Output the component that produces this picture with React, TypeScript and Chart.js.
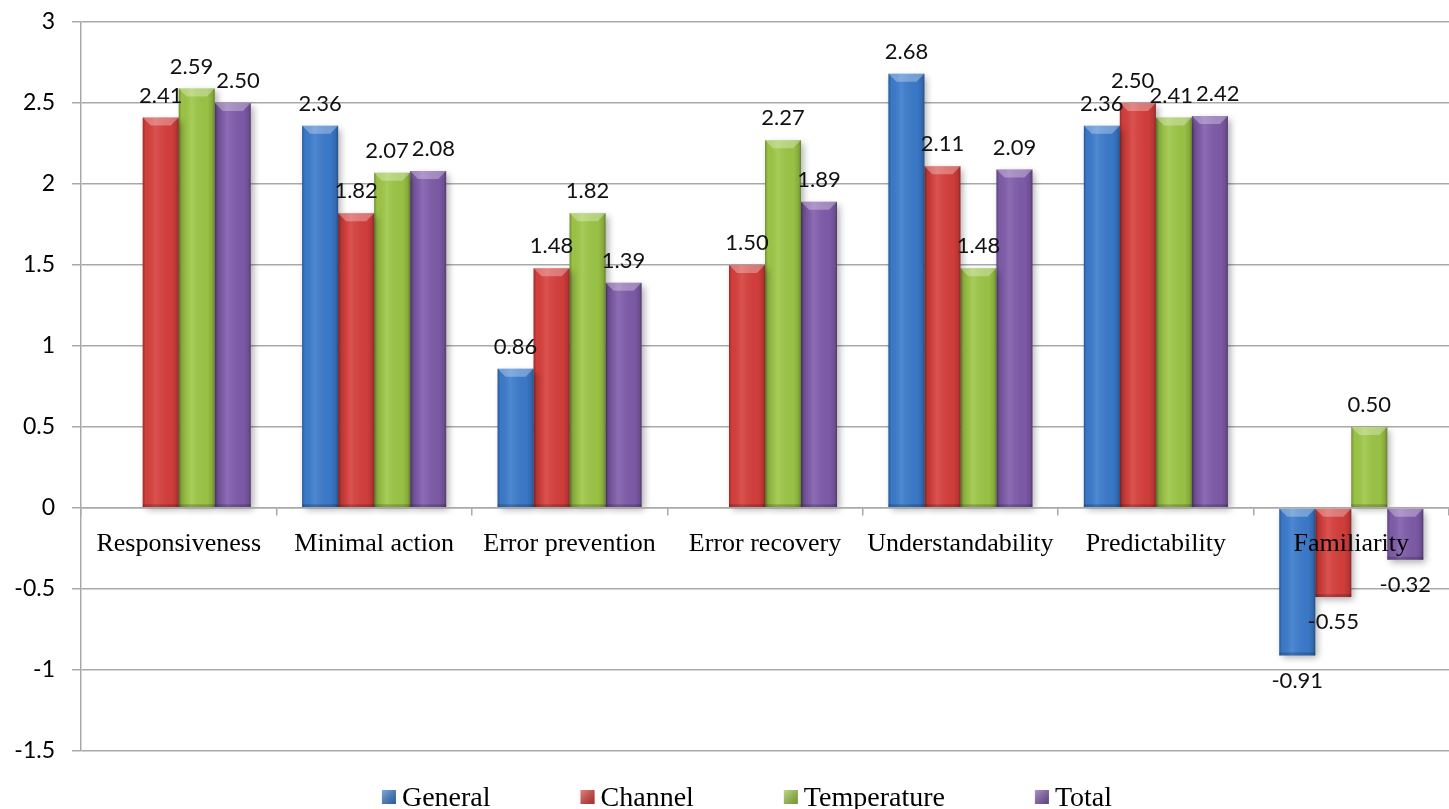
import React, { useEffect, useRef } from "react";
import { Chart, registerables } from "chart.js";

Chart.register(...registerables);

// Usability criteria scored per configuration
const categories = [
  "Responsiveness",
  "Minimal action",
  "Error prevention",
  "Error recovery",
  "Understandability",
  "Predictability",
  "Familiarity",
];

const generalScores = [null, 2.36, 0.86, null, 2.68, 2.36, -0.91];
const channelScores = [2.41, 1.82, 1.48, 1.5, 2.11, 2.5, -0.55];
const temperatureScores = [2.59, 2.07, 1.82, 2.27, 1.48, 2.41, 0.5];
const totalScores = [2.5, 2.08, 1.39, 1.89, 2.09, 2.42, -0.32];

const seriesNames = ["General", "Channel", "Temperature", "Total"];
const seriesColors = ["#3b7bcc", "#d63f3c", "#9dc646", "#7f5caa"];

const yTicks = [3, 2.5, 2, 1.5, 1, 0.5, 0, -0.5, -1, -1.5];

const GRID = "#a9a9a9";
const SERIF = '"Liberation Serif", "Times New Roman", serif';
const SANS = 'Lato, "Open Sans", sans-serif';

// Soft drop shadow under the bars, bevelled shading on top of them,
// then the value labels.
const barStylePlugin = {
  id: "barStyle",
  beforeDatasetsDraw(chart: any) {
    const ctx = chart.ctx;
    ctx.save();
    ctx.shadowColor = "rgba(0,0,0,0.32)";
    ctx.shadowBlur = 7;
    ctx.shadowOffsetX = 3;
    ctx.shadowOffsetY = 3;
  },
  afterDatasetsDraw(chart: any) {
    const ctx = chart.ctx;
    ctx.restore();

    ctx.save();
    chart.data.datasets.forEach((ds: any, i: number) => {
      const meta = chart.getDatasetMeta(i);
      meta.data.forEach((bar: any, j: number) => {
        if (ds.data[j] == null) return;
        const { x, y, base, width } = bar.getProps(["x", "y", "base", "width"], true);
        const left = x - width / 2;
        const right = x + width / 2;
        const top = Math.min(y, base);
        const bottom = Math.max(y, base);
        const h = bottom - top;

        // cylinder-like horizontal shading
        const g = ctx.createLinearGradient(left, 0, right, 0);
        g.addColorStop(0, "rgba(0,0,0,0.28)");
        g.addColorStop(0.08, "rgba(0,0,0,0.02)");
        g.addColorStop(0.35, "rgba(255,255,255,0.10)");
        g.addColorStop(0.8, "rgba(0,0,0,0.03)");
        g.addColorStop(0.93, "rgba(0,0,0,0.14)");
        g.addColorStop(1, "rgba(0,0,0,0.35)");
        ctx.fillStyle = g;
        ctx.fillRect(left, top, width, h);

        // bevel at the upper edge
        const b = Math.min(8, h / 2);
        ctx.beginPath();
        ctx.moveTo(left, top);
        ctx.lineTo(right, top);
        ctx.lineTo(right - b, top + b);
        ctx.lineTo(left + b, top + b);
        ctx.closePath();
        ctx.fillStyle = "rgba(255,255,255,0.30)";
        ctx.fill();

        // darker lower rim
        ctx.fillStyle = "rgba(0,0,0,0.18)";
        ctx.fillRect(left, bottom - Math.min(3, h / 3), width, Math.min(3, h / 3));
      });
    });
    ctx.restore();

    // value labels
    ctx.save();
    ctx.font = `22px ${SANS}`;
    ctx.fillStyle = "#111";
    ctx.textAlign = "center";
    ctx.textBaseline = "middle";
    const nCat = chart.data.labels.length;
    for (let j = 0; j < nCat; j++) {
      const items: any[] = [];
      chart.data.datasets.forEach((ds: any, i: number) => {
        const v = ds.data[j];
        if (v == null) return;
        const bar = chart.getDatasetMeta(i).data[j];
        const { x, y } = bar.getProps(["x", "y"], true);
        const text = v.toFixed(2);
        const w = ctx.measureText(text).width;
        const cy = v >= 0 ? y - 22 : y + 25;
        items.push({ text, x, cy, w });
      });
      // push apart labels that would touch their neighbour
      for (let k = 1; k < items.length; k++) {
        const a = items[k - 1];
        const c = items[k];
        const overlap = a.x + a.w / 2 + 3 - (c.x - c.w / 2);
        if (overlap > 0 && Math.abs(a.cy - c.cy) < 16) {
          a.x -= overlap / 2;
          c.x += overlap / 2;
        }
      }
      items.forEach((it) => ctx.fillText(it.text, it.x, it.cy));
    }
    ctx.restore();
  },
};

// Legend row along the bottom edge
const bottomLegendPlugin = {
  id: "bottomLegend",
  afterDraw(chart: any) {
    const ctx = chart.ctx;
    const area = chart.chartArea;
    ctx.save();
    ctx.font = `28px ${SERIF}`;
    const box = 14;
    const gapText = 6;
    const gapItem = 90;
    const widths = chart.data.datasets.map(
      (ds: any) => box + gapText + ctx.measureText(ds.label).width
    );
    const total = widths.reduce((s: number, w: number) => s + w, 0) + gapItem * (widths.length - 1);
    let x = (area.left + area.right) / 2 - 18 - total / 2;
    const baseline = area.bottom + 55;
    chart.data.datasets.forEach((ds: any, i: number) => {
      const by = baseline - 16;
      const g = ctx.createLinearGradient(x, by, x + box, by + box);
      g.addColorStop(0, "rgba(255,255,255,0.35)");
      g.addColorStop(1, "rgba(0,0,0,0.25)");
      ctx.fillStyle = ds.backgroundColor;
      ctx.fillRect(x, by, box, box);
      ctx.fillStyle = g;
      ctx.fillRect(x, by, box, box);
      ctx.fillStyle = "#000";
      ctx.textAlign = "left";
      ctx.textBaseline = "alphabetic";
      ctx.fillText(ds.label, x + box + gapText, baseline);
      x += widths[i] + gapItem;
    });
    ctx.restore();
  },
};

export default function App() {
  const canvasRef = useRef<HTMLCanvasElement | null>(null);

  useEffect(() => {
    document.body.style.margin = "0";
    const canvas = canvasRef.current;
    if (!canvas) return;

    const seriesData = [generalScores, channelScores, temperatureScores, totalScores];

    const chart = new Chart(canvas, {
      type: "bar",
      data: {
        labels: categories,
        datasets: seriesNames.map((name, i) => ({
          label: name,
          data: seriesData[i],
          backgroundColor: seriesColors[i],
          borderWidth: 0,
          categoryPercentage: 0.737,
          barPercentage: 1,
        })),
      },
      plugins: [barStylePlugin, bottomLegendPlugin],
      options: {
        responsive: false,
        animation: false,
        devicePixelRatio: 1,
        layout: { padding: { top: 22, right: 0, bottom: 58, left: 0 } },
        plugins: {
          legend: { display: false },
          tooltip: { enabled: false },
        },
        scales: {
          x: {
            position: { y: 0 },
            offset: true,
            grid: {
              offset: true,
              drawOnChartArea: false,
              drawTicks: true,
              tickLength: 7,
              color: GRID,
              lineWidth: 1.5,
              z: 1,
            },
            border: { display: true, color: GRID, width: 1.5, z: 1 },
            ticks: {
              font: { family: SERIF, size: 26 },
              color: "#000",
              padding: 14,
              maxRotation: 0,
              autoSkip: false,
              z: 2,
            },
          },
          y: {
            min: -1.5,
            max: 3,
            afterFit: (scale: any) => {
              scale.width = 81;
              scale.paddingTop = 0;
              scale.paddingBottom = 0;
            },
            afterBuildTicks: (scale: any) => {
              scale.ticks = yTicks.map((v) => ({ value: v }));
            },
            grid: {
              color: GRID,
              lineWidth: 1.5,
              tickLength: 9,
            },
            border: { display: true, color: GRID, width: 1.5 },
            ticks: {
              font: { family: SANS, size: 23 },
              color: "#000",
              padding: 17,
              callback: (v: any) => String(v),
            },
          },
        },
      },
    });

    return () => chart.destroy();
  }, []);

  return (
    <div style={{ width: 1449, height: 809, background: "#fff" }}>
      <canvas ref={canvasRef} width={1449} height={809} />
    </div>
  );
}
